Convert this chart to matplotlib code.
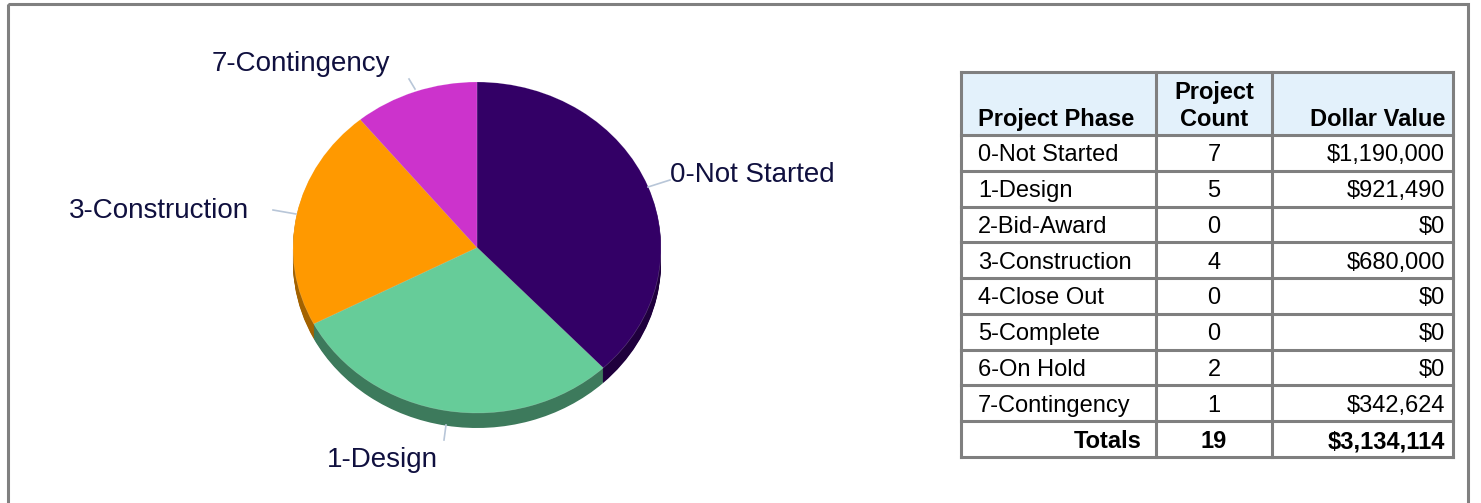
import matplotlib.pyplot as plt
from matplotlib.patches import Rectangle

plt.rcParams['font.family'] = ['Liberation Sans', 'DejaVu Sans']

# pie data (slices sized by dollar value)
pie_labels = ["0-Not Started", "1-Design", "3-Construction", "7-Contingency"]
pie_values = [1190000, 921490, 680000, 342624]
pie_colors = ["#330066", "#66cc99", "#ff9900", "#cc33cc"]
side_colors = ["#1f003d", "#3d7a5c", "#a36200", "#7a1f7a"]

# table data
phases = ["0-Not Started", "1-Design", "2-Bid-Award", "3-Construction", "4-Close Out",
          "5-Complete", "6-On Hold", "7-Contingency"]
counts = [7, 5, 0, 4, 0, 0, 2, 1]
dollars = [1190000, 921490, 0, 680000, 0, 0, 0, 342624]

W, H = 1481, 503
fig = plt.figure(figsize=(W / 100, H / 100), dpi=100)

# pie axes: pixel x = cx + rx * x, pixel y = cy - ry * y
cx, cy, rx, ry = 477, 247.5, 184, 165.5
ax = fig.add_axes([0, 0, 1, 1])
depth = 15 / ry
steps = 16
for k in range(steps, 0, -1):
    ax.pie(pie_values, colors=side_colors, startangle=90, counterclock=False,
           center=(0, -depth * k / steps), radius=1,
           wedgeprops=dict(linewidth=0))
ax.pie(pie_values, colors=pie_colors, startangle=90, counterclock=False,
       center=(0, 0), radius=1, wedgeprops=dict(linewidth=0.4, edgecolor="#ffffff40"))
ax.set_aspect("auto")
ax.set_xlim(-cx / rx, (W - cx) / rx)
ax.set_ylim((cy - H) / ry, cy / ry)
ax.axis("off")


def px(x, y):
    return (x - cx) / rx, (cy - y) / ry


label_color = "#10103f"
line_color = "#b8c6d8"
label_spec = [
    ("0-Not Started", (670, 175), "left", [(648, 187), (670, 180)]),
    ("1-Design", (382, 460), "center", [(446, 425), (444, 440)]),
    ("3-Construction", (249, 211), "right", [(273, 210), (296, 214)]),
    ("7-Contingency", (301, 64), "center", [(409, 79), (415, 89)]),
]
for name, pos, ha, seg in label_spec:
    ax.text(*px(*pos), name, ha=ha, va="center", fontsize=20, color=label_color)
    (x0, y0), (x1, y1) = px(*seg[0]), px(*seg[1])
    ax.plot([x0, x1], [y0, y1], color=line_color, lw=1.2)

# table drawn in pixel coordinates
tx = fig.add_axes([0, 0, 1, 1], facecolor="none")
tx.set_xlim(0, W)
tx.set_ylim(H, 0)
tx.axis("off")

# outer frame
tx.add_patch(Rectangle((8, 4), 1460, 520, fill=False, edgecolor="#808080", lw=2.2))

col_x = [961, 1156, 1272, 1453]
top, head_bot, bottom = 72, 135, 457
n_rows = len(phases) + 1
row_h = (bottom - head_bot) / n_rows
border = "#7f7f7f"
fs = 17
dy = 2.5

tx.add_patch(Rectangle((col_x[0], top), col_x[3] - col_x[0], head_bot - top,
                       facecolor="#e3f1fb", edgecolor="none"))
for xv in col_x:
    tx.plot([xv, xv], [top, bottom], color=border, lw=2.2, solid_capstyle="projecting")
for yv in [top, head_bot] + [head_bot + row_h * (i + 1) for i in range(n_rows)]:
    tx.plot([col_x[0], col_x[3]], [yv, yv], color=border, lw=2.2, solid_capstyle="projecting")

# header
hy = head_bot - 16
tx.text(col_x[0] + 17, hy, "Project Phase", ha="left", va="center", fontsize=fs, fontweight="bold")
tx.text((col_x[1] + col_x[2]) / 2, hy - 27, "Project", ha="center", va="center", fontsize=fs, fontweight="bold")
tx.text((col_x[1] + col_x[2]) / 2, hy, "Count", ha="center", va="center", fontsize=fs, fontweight="bold")
tx.text(col_x[3] - 8, hy, "Dollar Value", ha="right", va="center", fontsize=fs, fontweight="bold")

for i, (p, c, d) in enumerate(zip(phases, counts, dollars)):
    y = head_bot + row_h * (i + 0.5) + dy
    tx.text(col_x[0] + 17, y, p, ha="left", va="center", fontsize=fs)
    tx.text((col_x[1] + col_x[2]) / 2, y, str(c), ha="center", va="center", fontsize=fs)
    tx.text(col_x[3] - 8, y, f"${d:,}", ha="right", va="center", fontsize=fs)

y = head_bot + row_h * (n_rows - 0.5) + dy
tx.text(col_x[1] - 14, y, "Totals", ha="right", va="center", fontsize=fs, fontweight="bold")
tx.text((col_x[1] + col_x[2]) / 2, y, str(sum(counts)), ha="center", va="center", fontsize=fs, fontweight="bold")
tx.text(col_x[3] - 8, y, f"${sum(dollars):,}", ha="right", va="center", fontsize=fs, fontweight="bold")

fig.savefig("out.png", dpi=100)
